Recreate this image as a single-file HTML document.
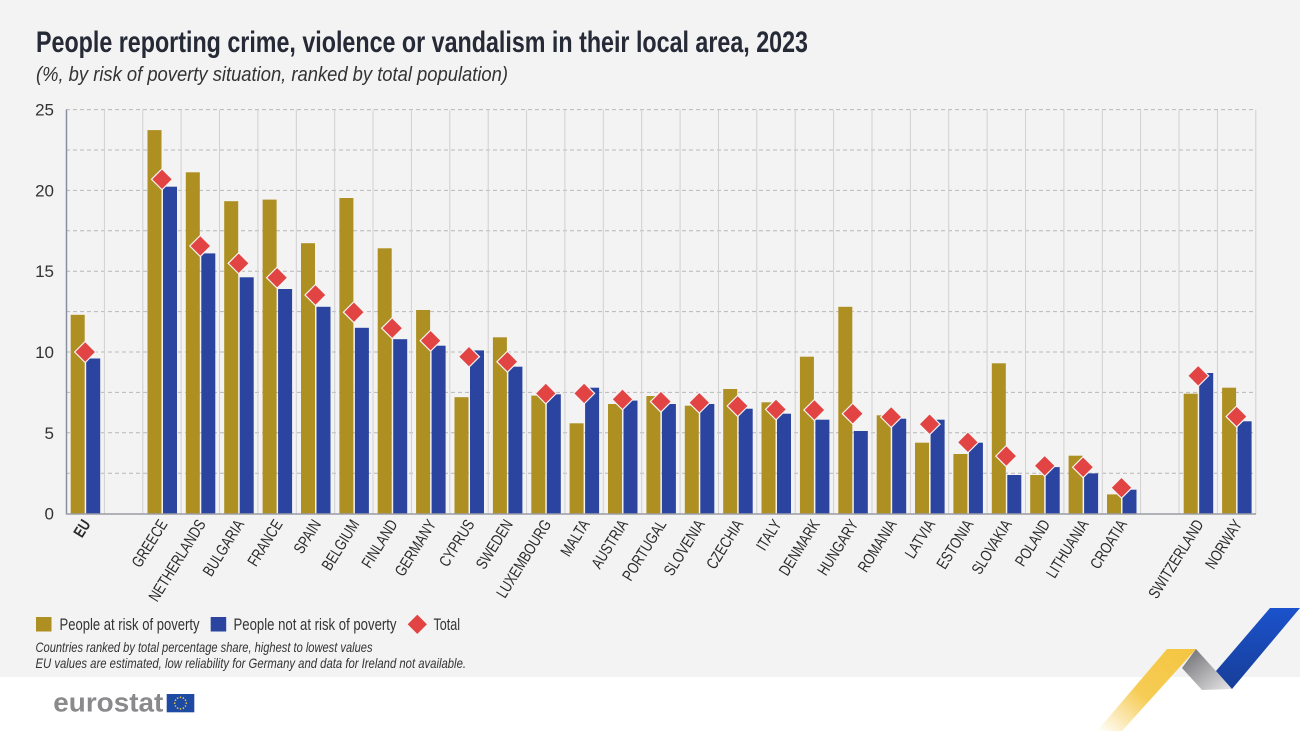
<!DOCTYPE html>
<html><head><meta charset="utf-8"><style>
html,body{margin:0;padding:0;background:#fff;}
svg{display:block;}
text{font-family:"Liberation Sans",sans-serif;}
</style></head><body>
<svg width="1300" height="731" viewBox="0 0 1300 731" xmlns="http://www.w3.org/2000/svg">
<defs>
<path id="dm" d="M0,-10.5L10.5,0L0,10.5L-10.5,0Z" fill="#e24343" stroke="#f4f4f4" stroke-width="1.2"/>
<linearGradient id="gy" x1="1" y1="0" x2="0" y2="1"><stop offset="0" stop-color="#f5c540"/><stop offset="0.55" stop-color="#f6cc55"/><stop offset="1" stop-color="#ffffff"/></linearGradient>
<linearGradient id="gg" x1="0" y1="0" x2="1" y2="1"><stop offset="0" stop-color="#6a6a6e"/><stop offset="1" stop-color="#e8e8ea"/></linearGradient>
<linearGradient id="gb" x1="0" y1="0" x2="0" y2="1"><stop offset="0" stop-color="#1b52cc"/><stop offset="1" stop-color="#173e98"/></linearGradient>
</defs>
<rect x="0" y="0" width="1300" height="677" fill="#f3f3f3"/>
<rect x="0" y="677" width="1300" height="54" fill="#ffffff"/>

<text x="36" y="52" font-size="30" font-weight="bold" fill="#252a36" textLength="772" lengthAdjust="spacingAndGlyphs">People reporting crime, violence or vandalism in their local area, 2023</text>
<text x="36" y="81" font-size="20" font-style="italic" fill="#333" textLength="472" lengthAdjust="spacingAndGlyphs">(%, by risk of poverty situation, ranked by total population)</text>

<g stroke="#b8b8b8" stroke-width="1" stroke-dasharray="4 3">
<line x1="66" y1="473.2" x2="1256" y2="473.2"/><line x1="66" y1="432.8" x2="1256" y2="432.8"/>
<line x1="66" y1="392.4" x2="1256" y2="392.4"/><line x1="66" y1="352" x2="1256" y2="352"/>
<line x1="66" y1="311.6" x2="1256" y2="311.6"/><line x1="66" y1="271.2" x2="1256" y2="271.2"/>
<line x1="66" y1="230.8" x2="1256" y2="230.8"/><line x1="66" y1="190.4" x2="1256" y2="190.4"/>
<line x1="66" y1="150" x2="1256" y2="150"/><line x1="66" y1="109.6" x2="1256" y2="109.6"/>
</g>
<g stroke="#d0d0d0" stroke-width="1">
<line x1="104.4" y1="109.6" x2="104.4" y2="514"/><line x1="142.8" y1="109.6" x2="142.8" y2="514"/>
<line x1="181.1" y1="109.6" x2="181.1" y2="514"/><line x1="219.5" y1="109.6" x2="219.5" y2="514"/>
<line x1="257.9" y1="109.6" x2="257.9" y2="514"/><line x1="296.3" y1="109.6" x2="296.3" y2="514"/>
<line x1="334.7" y1="109.6" x2="334.7" y2="514"/><line x1="373" y1="109.6" x2="373" y2="514"/>
<line x1="411.4" y1="109.6" x2="411.4" y2="514"/><line x1="449.8" y1="109.6" x2="449.8" y2="514"/>
<line x1="488.2" y1="109.6" x2="488.2" y2="514"/><line x1="526.6" y1="109.6" x2="526.6" y2="514"/>
<line x1="564.9" y1="109.6" x2="564.9" y2="514"/><line x1="603.3" y1="109.6" x2="603.3" y2="514"/>
<line x1="641.7" y1="109.6" x2="641.7" y2="514"/><line x1="680.1" y1="109.6" x2="680.1" y2="514"/>
<line x1="718.5" y1="109.6" x2="718.5" y2="514"/><line x1="756.8" y1="109.6" x2="756.8" y2="514"/>
<line x1="795.2" y1="109.6" x2="795.2" y2="514"/><line x1="833.6" y1="109.6" x2="833.6" y2="514"/>
<line x1="872" y1="109.6" x2="872" y2="514"/><line x1="910.4" y1="109.6" x2="910.4" y2="514"/>
<line x1="948.7" y1="109.6" x2="948.7" y2="514"/><line x1="987.1" y1="109.6" x2="987.1" y2="514"/>
<line x1="1025.5" y1="109.6" x2="1025.5" y2="514"/><line x1="1063.9" y1="109.6" x2="1063.9" y2="514"/>
<line x1="1102.3" y1="109.6" x2="1102.3" y2="514"/><line x1="1140.6" y1="109.6" x2="1140.6" y2="514"/>
<line x1="1179" y1="109.6" x2="1179" y2="514"/><line x1="1217.4" y1="109.6" x2="1217.4" y2="514"/>
<line x1="1255.8" y1="109.6" x2="1255.8" y2="514"/>
</g>

<g font-size="17" fill="#333" text-anchor="end">
<text x="54" y="115.6">25</text><text x="54" y="196.4">20</text><text x="54" y="277.2">15</text>
<text x="54" y="358">10</text><text x="54" y="438.8">5</text><text x="54" y="519.6">0</text>
</g>

<!-- gold bars -->
<g fill="#ae8f22">
<rect x="70.7" y="314.8" width="14" height="198.8"/>
<rect x="147.5" y="130.1" width="14" height="383.5"/>
<rect x="185.8" y="172.3" width="14" height="341.3"/>
<rect x="224.2" y="201.2" width="14" height="312.4"/>
<rect x="262.6" y="199.6" width="14" height="314"/>
<rect x="301" y="243.2" width="14" height="270.4"/>
<rect x="339.4" y="198" width="14" height="315.6"/>
<rect x="377.7" y="248.3" width="14" height="265.3"/>
<rect x="416.1" y="310" width="14" height="203.6"/>
<rect x="454.5" y="397.2" width="14" height="116.4"/>
<rect x="492.9" y="337.3" width="14" height="176.3"/>
<rect x="531.3" y="395.6" width="14" height="118"/>
<rect x="569.6" y="423.3" width="14" height="90.3"/>
<rect x="608" y="404" width="14" height="109.6"/>
<rect x="646.4" y="396" width="14" height="117.6"/>
<rect x="684.8" y="405.7" width="14" height="107.9"/>
<rect x="723.2" y="389" width="14" height="124.6"/>
<rect x="761.5" y="402.3" width="14" height="111.3"/>
<rect x="799.9" y="356.7" width="14" height="156.9"/>
<rect x="838.3" y="306.8" width="14" height="206.8"/>
<rect x="876.7" y="415.3" width="14" height="98.3"/>
<rect x="915" y="442.7" width="14" height="70.9"/>
<rect x="953.4" y="454" width="14" height="59.6"/>
<rect x="991.8" y="363.3" width="14" height="150.3"/>
<rect x="1030.2" y="475" width="14" height="38.6"/>
<rect x="1068.6" y="455.7" width="14" height="57.9"/>
<rect x="1107" y="494.4" width="14" height="19.2"/>
<rect x="1183.7" y="393.7" width="14" height="119.9"/>
<rect x="1222.1" y="387.7" width="14" height="125.9"/>
</g>
<!-- blue bars -->
<g fill="#2a44a0">
<rect x="86.2" y="358.5" width="14" height="155.1"/>
<rect x="163" y="186.7" width="14" height="326.9"/>
<rect x="201.3" y="253.4" width="14" height="260.2"/>
<rect x="239.7" y="277.3" width="14" height="236.3"/>
<rect x="278.1" y="289" width="14" height="224.6"/>
<rect x="316.5" y="306.8" width="14" height="206.8"/>
<rect x="354.9" y="327.8" width="14" height="185.8"/>
<rect x="393.2" y="339.2" width="14" height="174.4"/>
<rect x="431.6" y="345.7" width="14" height="167.9"/>
<rect x="470" y="350.4" width="14" height="163.2"/>
<rect x="508.4" y="366.7" width="14" height="146.9"/>
<rect x="546.8" y="394.3" width="14" height="119.3"/>
<rect x="585.1" y="387.7" width="14" height="125.9"/>
<rect x="623.5" y="400.6" width="14" height="113"/>
<rect x="661.9" y="404" width="14" height="109.6"/>
<rect x="700.3" y="404" width="14" height="109.6"/>
<rect x="738.7" y="408.7" width="14" height="104.9"/>
<rect x="777" y="413.7" width="14" height="99.9"/>
<rect x="815.4" y="419.7" width="14" height="93.9"/>
<rect x="853.8" y="431" width="14" height="82.6"/>
<rect x="892.2" y="418.7" width="14" height="94.9"/>
<rect x="930.6" y="419.7" width="14" height="93.9"/>
<rect x="968.9" y="442.7" width="14" height="70.9"/>
<rect x="1007.3" y="475" width="14" height="38.6"/>
<rect x="1045.7" y="467.1" width="14" height="46.5"/>
<rect x="1084.1" y="473.4" width="14" height="40.2"/>
<rect x="1122.5" y="489.7" width="14" height="23.9"/>
<rect x="1199.2" y="373" width="14" height="140.6"/>
<rect x="1237.6" y="421.3" width="14" height="92.3"/>
</g>
<!-- totals -->
<g>
<use href="#dm" x="85.2" y="352"/>
<use href="#dm" x="162" y="179.3"/>
<use href="#dm" x="200.3" y="246"/>
<use href="#dm" x="238.7" y="263.3"/>
<use href="#dm" x="277.1" y="277.7"/>
<use href="#dm" x="315.5" y="295"/>
<use href="#dm" x="353.9" y="312.2"/>
<use href="#dm" x="392.2" y="328.2"/>
<use href="#dm" x="430.6" y="340.7"/>
<use href="#dm" x="469" y="356.7"/>
<use href="#dm" x="507.4" y="361.7"/>
<use href="#dm" x="545.8" y="393.4"/>
<use href="#dm" x="584.1" y="393.4"/>
<use href="#dm" x="622.5" y="399.3"/>
<use href="#dm" x="660.9" y="401.6"/>
<use href="#dm" x="699.3" y="402.7"/>
<use href="#dm" x="737.7" y="406"/>
<use href="#dm" x="776" y="409.4"/>
<use href="#dm" x="814.4" y="410"/>
<use href="#dm" x="852.8" y="413.7"/>
<use href="#dm" x="891.2" y="417"/>
<use href="#dm" x="929.6" y="424.2"/>
<use href="#dm" x="967.9" y="442.3"/>
<use href="#dm" x="1006.3" y="456.1"/>
<use href="#dm" x="1044.7" y="465.8"/>
<use href="#dm" x="1083.1" y="467.2"/>
<use href="#dm" x="1121.5" y="487.7"/>
<use href="#dm" x="1198.2" y="375.8"/>
<use href="#dm" x="1236.6" y="416.6"/>
</g>

<line x1="66.5" y1="109.6" x2="66.5" y2="514.5" stroke="#8a8fa0" stroke-width="1.5"/>
<line x1="66" y1="514" x2="1256" y2="514" stroke="#9a9ca4" stroke-width="1.5"/>

<!-- category labels -->
<g font-size="16" fill="#2b2b2b" text-anchor="end">
<text transform="translate(91.2,524) rotate(-58) scale(0.78,1)" font-weight="bold">EU</text>
<text transform="translate(168,524) rotate(-58) scale(0.78,1)">GREECE</text>
<text transform="translate(206.3,524) rotate(-58) scale(0.78,1)">NETHERLANDS</text>
<text transform="translate(244.7,524) rotate(-58) scale(0.78,1)">BULGARIA</text>
<text transform="translate(283.1,524) rotate(-58) scale(0.78,1)">FRANCE</text>
<text transform="translate(321.5,524) rotate(-58) scale(0.78,1)">SPAIN</text>
<text transform="translate(359.9,524) rotate(-58) scale(0.78,1)">BELGIUM</text>
<text transform="translate(398.2,524) rotate(-58) scale(0.78,1)">FINLAND</text>
<text transform="translate(436.6,524) rotate(-58) scale(0.78,1)">GERMANY</text>
<text transform="translate(475,524) rotate(-58) scale(0.78,1)">CYPRUS</text>
<text transform="translate(513.4,524) rotate(-58) scale(0.78,1)">SWEDEN</text>
<text transform="translate(551.8,524) rotate(-58) scale(0.78,1)">LUXEMBOURG</text>
<text transform="translate(590.1,524) rotate(-58) scale(0.78,1)">MALTA</text>
<text transform="translate(628.5,524) rotate(-58) scale(0.78,1)">AUSTRIA</text>
<text transform="translate(666.9,524) rotate(-58) scale(0.78,1)">PORTUGAL</text>
<text transform="translate(705.3,524) rotate(-58) scale(0.78,1)">SLOVENIA</text>
<text transform="translate(743.7,524) rotate(-58) scale(0.78,1)">CZECHIA</text>
<text transform="translate(782,524) rotate(-58) scale(0.78,1)">ITALY</text>
<text transform="translate(820.4,524) rotate(-58) scale(0.78,1)">DENMARK</text>
<text transform="translate(858.8,524) rotate(-58) scale(0.78,1)">HUNGARY</text>
<text transform="translate(897.2,524) rotate(-58) scale(0.78,1)">ROMANIA</text>
<text transform="translate(935.6,524) rotate(-58) scale(0.78,1)">LATVIA</text>
<text transform="translate(973.9,524) rotate(-58) scale(0.78,1)">ESTONIA</text>
<text transform="translate(1012.3,524) rotate(-58) scale(0.78,1)">SLOVAKIA</text>
<text transform="translate(1050.7,524) rotate(-58) scale(0.78,1)">POLAND</text>
<text transform="translate(1089.1,524) rotate(-58) scale(0.78,1)">LITHUANIA</text>
<text transform="translate(1127.5,524) rotate(-58) scale(0.78,1)">CROATIA</text>
<text transform="translate(1204.2,524) rotate(-58) scale(0.78,1)">SWITZERLAND</text>
<text transform="translate(1242.6,524) rotate(-58) scale(0.78,1)">NORWAY</text>
</g>

<!-- legend -->
<rect x="36" y="617" width="15.5" height="14.5" fill="#ae8f22"/>
<text x="59.5" y="630" font-size="17" fill="#333" textLength="140" lengthAdjust="spacingAndGlyphs">People at risk of poverty</text>
<rect x="210.7" y="617" width="15.5" height="14.5" fill="#2a44a0"/>
<text x="233.5" y="630" font-size="17" fill="#333" textLength="163" lengthAdjust="spacingAndGlyphs">People not at risk of poverty</text>
<use href="#dm" x="417.3" y="624.3"/>
<text x="433.5" y="630" font-size="17" fill="#333" textLength="26.5" lengthAdjust="spacingAndGlyphs">Total</text>
<text x="35.5" y="652" font-size="14" font-style="italic" fill="#333" textLength="337" lengthAdjust="spacingAndGlyphs">Countries ranked by total percentage share, highest to lowest values</text>
<text x="35.5" y="668" font-size="14" font-style="italic" fill="#333" textLength="430.5" lengthAdjust="spacingAndGlyphs">EU values are estimated, low reliability for Germany and data for Ireland not available.</text>

<!-- eurostat logo -->
<text x="53.3" y="711.5" font-size="27" font-weight="bold" fill="#8a8a8c" textLength="110" lengthAdjust="spacingAndGlyphs">eurostat</text>
<rect x="166.7" y="694" width="27.6" height="18.3" fill="#1f4aa3"/>
<g fill="#f3d23a">
<circle cx="180.5" cy="697.3" r="0.8"/><circle cx="183.4" cy="698.1" r="0.8"/><circle cx="185.5" cy="700.2" r="0.8"/>
<circle cx="186.3" cy="703.1" r="0.8"/><circle cx="185.5" cy="706" r="0.8"/><circle cx="183.4" cy="708.1" r="0.8"/>
<circle cx="180.5" cy="708.9" r="0.8"/><circle cx="177.6" cy="708.1" r="0.8"/><circle cx="175.5" cy="706" r="0.8"/>
<circle cx="174.7" cy="703.1" r="0.8"/><circle cx="175.5" cy="700.2" r="0.8"/><circle cx="177.6" cy="698.1" r="0.8"/>
</g>

<!-- ribbon decoration -->
<polygon points="1167,649 1196,649 1122,731 1097,731" fill="url(#gy)"/>
<polygon points="1182,668 1196,649 1232,689 1202,690" fill="url(#gg)"/>
<polygon points="1270,608 1300,608 1232,689 1216,671" fill="url(#gb)"/>
</svg>
</body></html>
